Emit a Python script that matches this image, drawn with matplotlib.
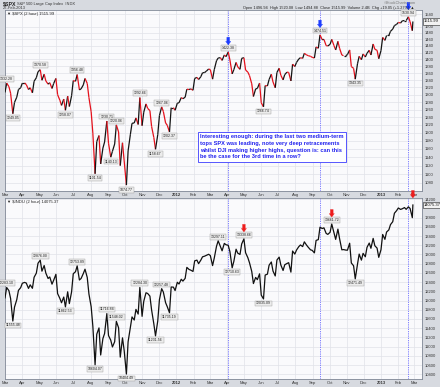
import numpy as np
import pandas as pd
import matplotlib
matplotlib.use('Agg')
import matplotlib.pyplot as plt
import matplotlib.dates as mdates
from matplotlib.collections import LineCollection
from matplotlib.ticker import FixedLocator, FixedFormatter, NullLocator
from matplotlib.transforms import offset_copy, blended_transform_factory

plt.rcParams['font.family'] = ['Liberation Sans', 'DejaVu Sans']

# sample dates: every Tuesday and Friday, plus the last session (27-Feb-2013)
tue = pd.date_range('2011-03-01', '2013-02-26', freq='W-TUE')
fri = pd.date_range('2011-03-04', '2013-02-22', freq='W-FRI')
dates = tue.union(fri).append(pd.DatetimeIndex(['2013-02-27']))

# S&P 500 (one row per month)
spx = [
    1306, 1332, 1322, 1304, 1249, 1279, 1293, 1314, 1319,   # 2011 Mar
    1332, 1332, 1328, 1314, 1319, 1305, 1337, 1347, 1364,   # Apr
    1370, 1340, 1357, 1338, 1329, 1333, 1317, 1331, 1345,   # May
    1300, 1285, 1271, 1288, 1258, 1296, 1268, 1297,         # Jun
    1339, 1337, 1356, 1313, 1316, 1327, 1345, 1331, 1292,   # Jul
    1254, 1199, 1101, 1178, 1193, 1124, 1162, 1177, 1230,   # Aug
    1174, 1140, 1154, 1172, 1220, 1202, 1120, 1175, 1131,   # Sep
    1075, 1155, 1195, 1224, 1225, 1238, 1221, 1292,         # Oct
    1218, 1253, 1275, 1263, 1257, 1216, 1188, 1159, 1195,   # Nov
    1244, 1267, 1255, 1225, 1219, 1202, 1265, 1265, 1258,   # Dec
    1277, 1278, 1292, 1289, 1293, 1315, 1314, 1316, 1312,   # 2012 Jan
    1345, 1348, 1342, 1350, 1361, 1362, 1366, 1372,         # Feb
    1370, 1343, 1370, 1396, 1404, 1405, 1397, 1413, 1408,   # Mar
    1422, 1398, 1358, 1370, 1391, 1378, 1371, 1403,         # Apr
    1405, 1369, 1363, 1353, 1330, 1295, 1316, 1317, 1332,   # May
    1278, 1267, 1325, 1324, 1342, 1357, 1335, 1319, 1362,   # Jun
    1374, 1354, 1341, 1356, 1363, 1362, 1338, 1386, 1379,   # Jul
    1391, 1401, 1405, 1403, 1418, 1413, 1411, 1409, 1406,   # Aug
    1404, 1437, 1433, 1474, 1459, 1460, 1441, 1440,         # Sep
    1445, 1460, 1441, 1428, 1454, 1433, 1413, 1411, 1411,   # Oct
    1414, 1428, 1379, 1374, 1343, 1387, 1409, 1399, 1416,   # Nov
    1407, 1418, 1427, 1413, 1446, 1430, 1427, 1402,         # Dec
    1426, 1466, 1457, 1472, 1472, 1485, 1492, 1503, 1507,   # 2013 Jan
    1513, 1511, 1518, 1519, 1519, 1531, 1515, 1487, 1516,   # Feb
]

# Dow Jones Industrials
dji = [
    12058, 12283, 12214, 12044, 11555, 11858, 12018, 12220, 12280,   # 2011 Mar
    12376, 12394, 12380, 12263, 12341, 12266, 12505, 12595, 12810,   # Apr
    12876, 12638, 12760, 12596, 12479, 12512, 12356, 12441, 12570,   # May
    12151, 12048, 11952, 12076, 11862, 12190, 11934, 12188,          # Jun
    12582, 12626, 12753, 12446, 12479, 12587, 12681, 12501, 12143,   # Jul
    11866, 11444, 10604, 11269, 11405, 10817, 11176, 11284, 11716,   # Aug
    11240, 11139, 10992, 11105, 11548, 11408, 10771, 11190, 10913,   # Sep
    10404, 11103, 11416, 11644, 11577, 11808, 11706, 12284,          # Oct
    11657, 11983, 12169, 12153, 12096, 11796, 11494, 11232, 11555,   # Nov
    12019, 12258, 12184, 11954, 11866, 11735, 12294, 12291, 12217,   # Dec
    12397, 12359, 12462, 12422, 12482, 12720, 12675, 12660, 12632,   # 2012 Jan
    12862, 12878, 12801, 12878, 12949, 12965, 12982, 13005,          # Feb
    12977, 12759, 12922, 13177, 13297, 13170, 13080, 13241, 13212,   # Mar
    13199, 13060, 12711, 12850, 13115, 13029, 13001, 13228,          # Apr
    13339, 13038, 12932, 12820, 12632, 12369, 12502, 12454, 12580,   # May
    12118, 12035, 12554, 12573, 12767, 12837, 12640, 12534, 12880,   # Jun
    12943, 12772, 12653, 12777, 12805, 12822, 12617, 13075, 13009,   # Jul
    13096, 13169, 13207, 13172, 13275, 13203, 13157, 13102, 13090,   # Aug
    13035, 13306, 13323, 13593, 13564, 13579, 13458, 13437,          # Sep
    13482, 13662, 13473, 13328, 13551, 13343, 13102, 13107, 13096,   # Oct
    13093, 13245, 12815, 12756, 12471, 12788, 13009, 12878, 13025,   # Nov
    12951, 13155, 13248, 13135, 13350, 13190, 13139, 12938,          # Dec
    13104, 13435, 13329, 13488, 13534, 13649, 13712, 13896, 13954,   # 2013 Jan
    14010, 13979, 13993, 14019, 13981, 14035, 14000, 13800, 14075,   # Feb
]

# swing-point labels (date, value, 't' above / 'b' below)
spx_lab_dates = ['2011-03-04', '2011-03-15', '2011-05-03', '2011-06-17', '2011-07-08',
                 '2011-08-09', '2011-08-30', '2011-09-06', '2011-09-16', '2011-10-04',
                 '2011-10-28', '2011-11-25', '2011-12-06', '2011-12-20', '2012-04-03',
                 '2012-06-05', '2012-09-14', '2012-11-16', '2013-02-19']
spx_lab_values = [1332.28, 1249.05, 1370.58, 1258.07, 1356.48, 1101.54, 1230.71, 1140.13,
                  1220.06, 1074.77, 1292.66, 1158.67, 1267.06, 1202.37, 1422.38, 1266.74,
                  1474.51, 1343.35, 1530.94]
spx_lab_side = ['t', 'b', 't', 'b', 't', 'b', 't', 'b', 't', 'b',
                't', 'b', 't', 'b', 't', 'b', 't', 'b', 't']

dji_lab_dates = ['2011-03-04', '2011-03-15', '2011-05-03', '2011-06-17', '2011-07-08',
                 '2011-08-09', '2011-08-30', '2011-09-16', '2011-10-04', '2011-10-28',
                 '2011-11-25', '2011-12-06', '2011-12-20', '2012-03-16', '2012-04-10',
                 '2012-05-01', '2012-06-05', '2012-10-05', '2012-11-16']
dji_lab_values = [12283.10, 11555.48, 12876.00, 11862.53, 12753.89, 10604.07, 11716.84,
                  11548.02, 10404.49, 12284.30, 11231.56, 12257.48, 11735.19, 13297.11,
                  12710.63, 13338.66, 12035.09, 13661.72, 12471.49]
dji_lab_side = ['t', 'b', 't', 'b', 't', 'b', 't', 't', 'b', 't',
                'b', 't', 'b', 't', 'b', 't', 'b', 't', 'b']

top_dates = ['2012-04-03', '2012-09-14', '2013-02-19']   # blue arrows / vertical lines
top_values = [1422.38, 1474.51, 1530.94]
dji_arrow_dates = ['2012-05-01', '2012-10-05', '2013-02-27']
dji_arrow_values = [13338.66, 13661.72, 14075.37]

# price scale labels (the one hidden behind each last-value box is left out)
spx_ticks = [v for v in range(1080, 1541, 20) if v != 1520]
dji_ticks = [v for v in range(10400, 14201, 200) if v != 14000]

note = ("Interesting enough: during the last two medium-term\n"
        "tops SPX was leading, note very deep retracements\n"
        "whilst DJI making higher highs, question is: can this\n"
        "be the case for the 3rd time in a row?")

W, H = 440, 387
BG = '#d7dae0'
fig = plt.figure(figsize=(W / 100, H / 100), dpi=100, facecolor=BG)


def rect(top, bottom):
    return [5 / W, 1 - bottom / H, 417 / W, (bottom - top) / H]


ax1 = fig.add_axes(rect(10, 191))
ax2 = fig.add_axes(rect(198, 379))

x = mdates.date2num(dates)
x0 = mdates.date2num(pd.Timestamp('2011-03-01'))
xlim = (x0, x0 + 745.3)
months = pd.date_range('2011-03-01', '2013-03-01', freq='MS')
mx = mdates.date2num(months)
mlab = [str(m.year) if m.month == 1 else m.strftime('%b') for m in months]

for ax in (ax1, ax2):
    ax.set_facecolor('#fafafc')
    ax.set_xlim(*xlim)
    ax.set_xticks(mx)
    ax.grid(True, color='#e1e3e9', lw=0.5)
    ax.set_axisbelow(True)
    for s in ax.spines.values():
        s.set_color('#808896')
        s.set_linewidth(0.6)
    ax.yaxis.tick_right()
    ax.tick_params(axis='y', length=0, pad=2, labelsize=3, labelcolor='#333333')
    ax.tick_params(axis='x', length=0, pad=1.2, labelsize=3, labelcolor='#333333')
    ax.set_xticklabels(mlab)
    for t, m in zip(ax.get_xticklabels(), months):
        if m.month == 1:
            t.set_fontweight('bold')
    for d in top_dates:
        ax.axvline(mdates.date2num(pd.Timestamp(d)), color='#6f6fff', lw=0.6,
                   ls=(0, (1.5, 1.2)), zorder=1)

# top panel: log scale
ax1.set_yscale('log')
ax1.set_ylim(1061.8, 1553)
ax1.yaxis.set_major_locator(FixedLocator(spx_ticks))
ax1.yaxis.set_major_formatter(FixedFormatter([str(v) for v in spx_ticks]))
ax1.yaxis.set_minor_locator(NullLocator())

spx_a = np.array(spx, dtype=float)
pts = np.column_stack([x, spx_a])
segs = np.stack([pts[:-1], pts[1:]], axis=1)
cols = np.where(np.diff(spx_a) < 0, '#e4111c', '#141414')
ax1.add_collection(LineCollection(segs, colors=cols, lw=0.9, zorder=3))

# bottom panel: linear
ax2.set_ylim(10296, 14227)
ax2.yaxis.set_major_locator(FixedLocator(dji_ticks))
ax2.yaxis.set_major_formatter(FixedFormatter([str(v) for v in dji_ticks]))
ax2.plot(x, dji, color='#111111', lw=0.9, zorder=3)


def labels(ax, ds, vs, sides):
    for d, v, s in zip(ds, vs, sides):
        dy = 3.0 if s == 't' else -3.2
        ax.annotate(f'{v:.2f}', (mdates.date2num(pd.Timestamp(d)), v), xytext=(0, dy),
                    textcoords='offset points', ha='center', va='center', fontsize=2.5,
                    color='#222222', zorder=5, annotation_clip=False,
                    bbox=dict(boxstyle='square,pad=0.25', fc='#ececec', ec='#9a9a9a', lw=0.3))


labels(ax1, spx_lab_dates, spx_lab_values, spx_lab_side)
labels(ax2, dji_lab_dates, dji_lab_values, dji_lab_side)


def arrows(ax, ds, vs, color):
    tr = offset_copy(ax.transData, fig=fig, x=0, y=5.0, units='points')
    for d, v in zip(ds, vs):
        ax.annotate('', xy=(mdates.date2num(pd.Timestamp(d)), v), xycoords=tr,
                    xytext=(0, 5.5), textcoords='offset points', annotation_clip=False,
                    arrowprops=dict(arrowstyle='simple,head_length=0.5,head_width=0.75,tail_width=0.4',
                                    fc=color, ec=color, lw=0.2, mutation_scale=5,
                                    shrinkA=0, shrinkB=0), zorder=6)


arrows(ax1, top_dates, top_values, '#1d3cff')
arrows(ax2, dji_arrow_dates, dji_arrow_values, '#ee1c1c')

# panel captions and last-value boxes
ax1.text(0.005, 0.988, '\u25bc \\$SPX (2 hour) 1515.99', transform=ax1.transAxes,
         fontsize=3, va='top', ha='left', color='#222222')
ax2.text(0.005, 0.988, '\u25bc \\$INDU (2 hour) 14075.37', transform=ax2.transAxes,
         fontsize=3, va='top', ha='left', color='#222222')
for ax, v, s in ((ax1, 1515.99, '1515.99'), (ax2, 14075.37, '14075.37')):
    ax.text(1.004, v, s, transform=blended_transform_factory(ax.transAxes, ax.transData),
            fontsize=3, va='center', ha='left', color='#111111', zorder=7,
            bbox=dict(boxstyle='square,pad=0.25', fc='#f2f2f2', ec='#222222', lw=0.4))

# header
fig.text(3 / W, 1 - 1 / H, '\\$SPX', fontsize=3.8, weight='bold', va='top', color='#222222')
fig.text(17 / W, 1 - 1.6 / H, 'S&P 500 Large Cap Index  INDX', fontsize=2.9, va='top', color='#333333')
fig.text(3 / W, 1 - 6 / H, '27-Feb-2013', fontsize=2.9, va='top', color='#333333')
fig.text(416 / W, 1 - 0.8 / H, '\u00a9StockCharts.com', fontsize=2.8, va='top', ha='right', color='#777777')
fig.text(414 / W, 1 - 5.6 / H,
         'Open 1496.94  High 1520.08  Low 1494.88  Close 1515.99  Volume 2.4B  Chg +19.05 (+1.27%) \u25b2',
         fontsize=2.8, va='top', ha='right', color='#222222')

# commentary box
fig.text(200 / W, 1 - 134 / H, note, fontsize=4.1, weight='bold', color='#2222ee',
         va='top', ha='left', linespacing=1.45, zorder=8,
         bbox=dict(boxstyle='square,pad=0.4', fc='white', ec='#3b3bff', lw=0.6))

fig.savefig('out.png', dpi=100, facecolor=BG)
